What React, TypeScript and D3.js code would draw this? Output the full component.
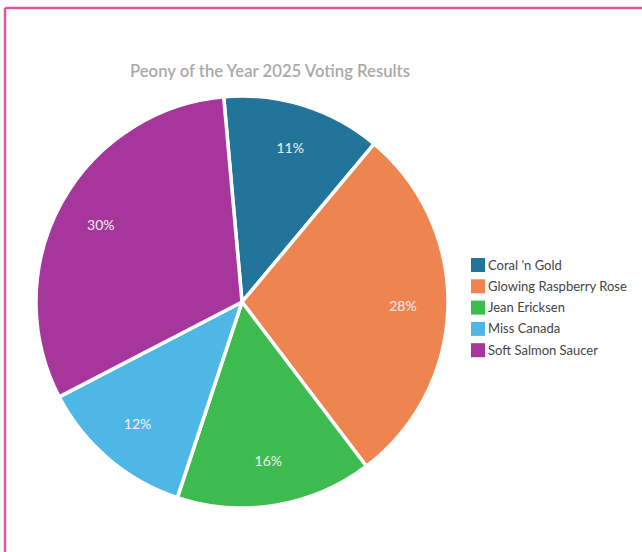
import React from "react";
import * as d3 from "d3";

const categories = ["Coral 'n Gold", "Glowing Raspberry Rose", "Jean Ericksen", "Miss Canada", "Soft Salmon Saucer"];
const shares = [12.5, 28.6, 15.4, 12.3, 31.2];
const labels = ["11%", "28%", "16%", "12%", "30%"];
const colors = ["#23749b", "#ee8550", "#3dbb4f", "#4fb7e6", "#a6369c"];
const title = "Peony of the Year 2025 Voting Results";

export default function App() {
  const W = 642, H = 552;
  const cx = 242, cy = 302, r = 206;
  const start = (-5.1 * Math.PI) / 180;
  const pie = d3.pie<number>().sort(null).startAngle(start).endAngle(start + 2 * Math.PI);
  const arcs = pie(shares);
  const arc = d3.arc<d3.PieArcDatum<number>>().innerRadius(0).outerRadius(r);
  const labelArc = d3.arc<d3.PieArcDatum<number>>().innerRadius(161).outerRadius(161);
  const font = "Lato, 'Noto Sans', sans-serif";
  return (
    <svg width={W} height={H} style={{ position: "absolute", left: 0, top: 0, background: "#fff" }}>
      <rect x={0} y={0} width={W} height={H} fill="#fff" />
      <line x1={5} x2={W} y1={8} y2={8} stroke="#e2569f" strokeWidth={2.5} />
      <line x1={5} x2={5} y1={8} y2={H} stroke="#e2569f" strokeWidth={2.5} />
      <text x={270} y={77} textAnchor="middle" fill="#a9a9a9" fontFamily={font} fontSize={17} fontWeight={600} textLength={280} lengthAdjust="spacingAndGlyphs">
        {title}
      </text>
      <g transform={`translate(${cx},${cy})`}>
        {arcs.map((a, i) => (
          <path key={i} d={arc(a) || ""} fill={colors[i]} stroke="#fff" strokeWidth={3.5} strokeLinejoin="round" />
        ))}
        {arcs.map((a, i) => {
          const [x, y] = labelArc.centroid(a);
          return (
            <text key={i} x={x} y={y} dy="0.35em" textAnchor="middle" fill="#f0f0f0" fontFamily={font} fontSize={14}>
              {labels[i]}
            </text>
          );
        })}
      </g>
      <g transform="translate(471,258)">
        {categories.map((c, i) => (
          <g key={i} transform={`translate(0,${i * 21.3})`}>
            <rect x={0} y={0} width={14} height={14} fill={colors[i]} />
            <text x={17} y={7} dy="0.35em" fill="#444" fontFamily={font} fontSize={13}>
              {c}
            </text>
          </g>
        ))}
      </g>
    </svg>
  );
}
